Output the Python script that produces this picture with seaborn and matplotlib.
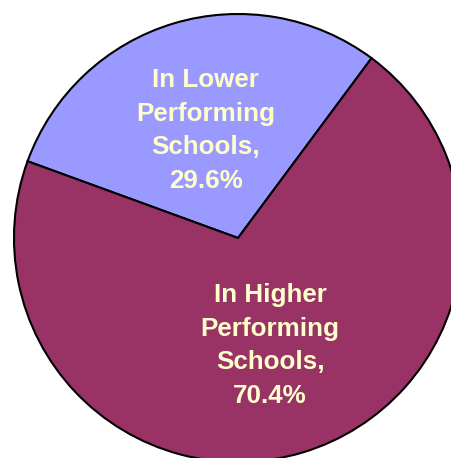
import seaborn as sns
import matplotlib.pyplot as plt

# share of students by school performance
groups = ["In Lower\nPerforming\nSchools,", "In Higher\nPerforming\nSchools,"]
shares = [29.6, 70.4]
colors = ["#9999FF", "#993366"]

sns.set_theme(style="white")
plt.rcParams["font.family"] = ["Liberation Sans", "DejaVu Sans"]

labels = [f"{g}\n{s:.1f}%" for g, s in zip(groups, shares)]

fig = plt.figure(figsize=(4.52, 4.58), dpi=100)
ax = fig.add_axes([0, 0, 1, 1])
wedges, texts = ax.pie(shares, colors=colors, labels=labels, startangle=53.4,
                       counterclock=True, center=(238, 220), radius=224,
                       labeldistance=0.5,
                       wedgeprops=dict(edgecolor="black", linewidth=1.5),
                       textprops=dict(color="#FFFFCC", fontsize=18.7,
                                      fontweight="bold", linespacing=1.5))
for t in texts:
    t.set_horizontalalignment("center")
    t.set_verticalalignment("center")
    t.set_multialignment("center")
ax.set_xlim(0, 452)
ax.set_ylim(0, 458)
ax.axis("off")

fig.savefig("out.png", dpi=100)
